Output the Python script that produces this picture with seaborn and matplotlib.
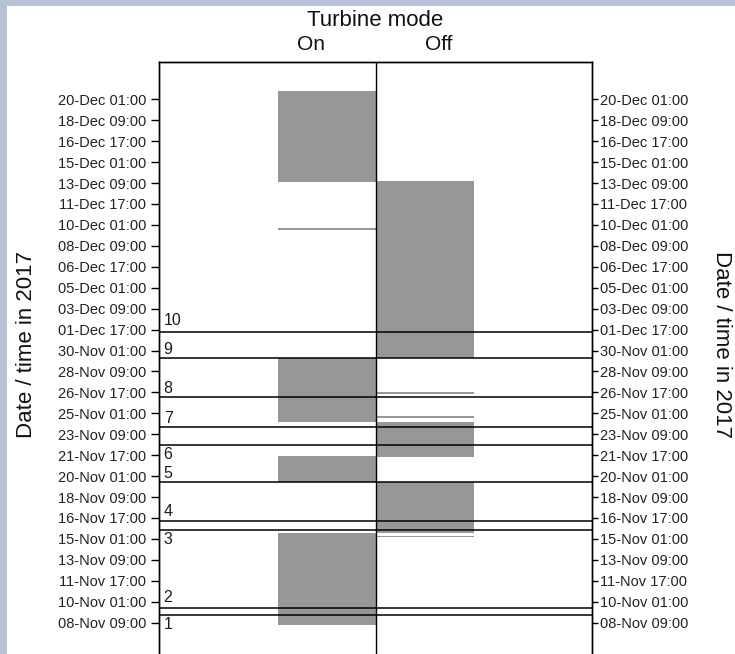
import matplotlib
matplotlib.use("Agg")
import matplotlib.pyplot as plt
import matplotlib.dates as mdates
from matplotlib.patches import Rectangle
import pandas as pd
import seaborn as sns

sns.set_theme(style="white")
plt.rcParams['font.family'] = ['Liberation Sans', 'DejaVu Sans']

# ---------------- data ----------------
modes = ["On", "Off"]

on_start = ["2017-11-08 04:30", "2017-11-19 13:15", "2017-11-24 08:00",
            "2017-12-09 14:45", "2017-12-13 11:30"]
on_end = ["2017-11-15 11:45", "2017-11-21 15:30", "2017-11-29 11:15",
          "2017-12-09 18:30", "2017-12-20 17:30"]

off_start = ["2017-11-15 04:00", "2017-11-15 11:45", "2017-11-21 14:15",
             "2017-11-24 15:30", "2017-11-26 13:30", "2017-11-29 11:15"]
off_end = ["2017-11-15 07:00", "2017-11-19 13:15", "2017-11-24 09:00",
           "2017-11-24 19:15", "2017-11-26 17:00", "2017-12-13 13:00"]

event_times = ["2017-11-08 23:00", "2017-11-09 13:45", "2017-11-15 18:00",
               "2017-11-16 12:00", "2017-11-19 13:15", "2017-11-22 12:30",
               "2017-11-23 22:15", "2017-11-26 07:45", "2017-11-29 11:15",
               "2017-12-01 12:50"]
event_labels = ["1", "2", "3", "4", "5", "6", "7", "8", "9", "10"]
label_times = ["2017-11-08 04:35", "2017-11-10 08:10", "2017-11-14 23:00",
               "2017-11-17 05:00", "2017-11-20 06:25", "2017-11-21 17:25",
               "2017-11-24 15:30", "2017-11-26 23:30", "2017-11-30 03:25",
               "2017-12-02 09:25"]

tick_start = "2017-11-08 09:00"
tick_count = 26
tick_step = "40h"

# ---------------- figure ----------------
W, H = 735, 654
fig = plt.figure(figsize=(W / 100, H / 100), dpi=100)
fig.patch.set_facecolor('#b5c3d5')
fig.add_artist(Rectangle((7 / W, 0), 1, 1 - 6 / H, transform=fig.transFigure,
                         facecolor='white', edgecolor='none', zorder=0))

ax = fig.add_axes([159.3 / W, 0, 433 / W, 1 - 61.7 / H])
ax.set_facecolor('white')

bar_color = '#979797'
bar_w = 0.905
pos = {"On": 2 - bar_w / 2, "Off": 2 + bar_w / 2}

df = pd.concat([
    pd.DataFrame({"mode": "On", "start": pd.to_datetime(on_start), "end": pd.to_datetime(on_end)}),
    pd.DataFrame({"mode": "Off", "start": pd.to_datetime(off_start), "end": pd.to_datetime(off_end)}),
], ignore_index=True)
df["b"] = mdates.date2num(df["start"])
df["h"] = mdates.date2num(df["end"]) - df["b"]

for m in modes:
    d = df[df["mode"] == m]
    ax.bar([pos[m]] * len(d), d["h"], bottom=d["b"], width=bar_w,
           color=bar_color, edgecolor='none', linewidth=0, zorder=2)

for t in pd.to_datetime(event_times):
    ax.axhline(mdates.date2num(t), color='black', lw=1.1, zorder=3)

for lab, t in zip(event_labels, pd.to_datetime(label_times)):
    ax.text(0.04, mdates.date2num(t), lab, ha='left', va='center',
            fontsize=11.5, color='#1a1a2a', zorder=4)

ax.axvline(2, color='black', lw=1.0, zorder=3)

ax.set_xlim(0, 4)
ax.set_ylim(mdates.date2num(pd.Timestamp("2017-11-05 21:10")),
            mdates.date2num(pd.Timestamp("2017-12-23 00:45")))

ticks = pd.date_range(tick_start, periods=tick_count, freq=tick_step)
tick_nums = mdates.date2num(ticks)
tick_labels = [t.strftime("%d-%b %H:%M") for t in ticks]

ax.set_xticks([])
ax.set_yticks(tick_nums)
ax.set_yticklabels(tick_labels)
ax.tick_params(axis='y', left=True, length=6, width=1, pad=3.5,
               labelsize=10.5, colors='black', labelcolor='#222222')

ax2 = ax.twinx()
ax2.set_ylim(ax.get_ylim())
ax2.set_yticks(tick_nums)
ax2.set_yticklabels(tick_labels)
ax2.tick_params(axis='y', right=True, length=4.3, width=1, pad=1.2,
                labelsize=10.5, colors='black', labelcolor='#222222')

for a in (ax, ax2):
    a.grid(False)
    for s in ("left", "top", "right"):
        a.spines[s].set_visible(True)
        a.spines[s].set_color('black')
        a.spines[s].set_linewidth(1.0)
    a.spines["bottom"].set_visible(False)

fig.text(375 / W, 1 - 20 / H, "Turbine mode", ha='center', va='center', fontsize=16, color='#111111')
fig.text(311 / W, 1 - 44 / H, modes[0], ha='center', va='center', fontsize=15, color='#111111')
fig.text(439 / W, 1 - 44 / H, modes[1], ha='center', va='center', fontsize=15, color='#111111')

fig.text(27 / W, 1 - 345 / H, "Date / time in 2017", rotation=90, ha='center', va='center',
         fontsize=16, color='#111111')
fig.text(721 / W, 1 - 345 / H, "Date / time in 2017", rotation=270, ha='center', va='center',
         fontsize=16, color='#111111')

fig.savefig("out.png", dpi=100, facecolor=fig.get_facecolor())
